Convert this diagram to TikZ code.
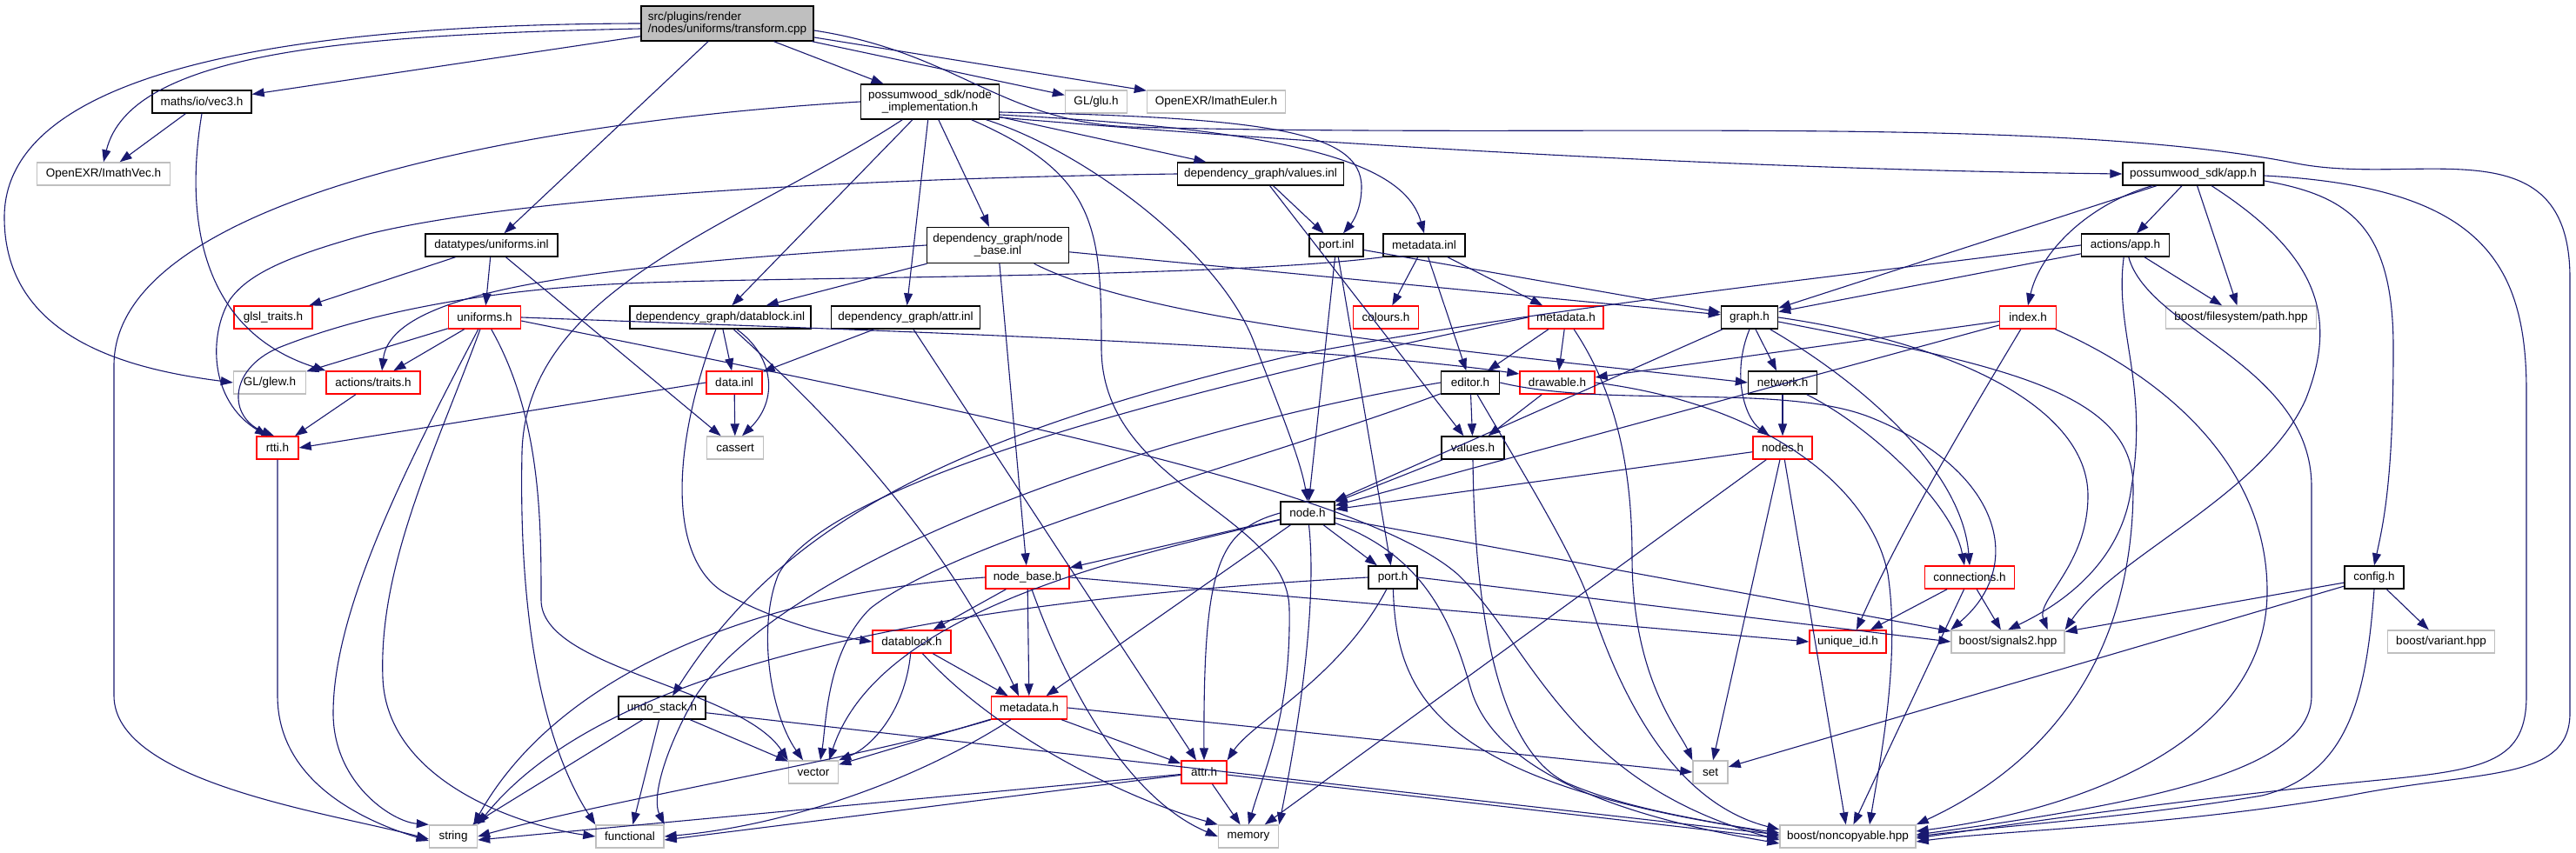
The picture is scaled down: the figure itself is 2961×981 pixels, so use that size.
\documentclass[tikz,border=0pt]{standalone}
\usepackage{fontspec}
\setmainfont{Liberation Sans}
\usetikzlibrary{arrows.meta}
\definecolor{edgec}{HTML}{191970}
\definecolor{grayb}{HTML}{BFBFBF}
\tikzset{
 nb/.style={draw=black, line width=1.4pt, inner sep=0pt, minimum height=26pt, font=\fontsize{13.5pt}{14.5pt}\selectfont},
 nr/.style={nb, draw=red},
 ng/.style={nb, draw=grayb},
 ed/.style={draw=edgec, line width=1.1pt, -{Triangle[length=14pt,width=10pt]}},
}
\begin{document}
\begin{tikzpicture}[x=1pt,y=-1pt]
\fill[white] (0,0) rectangle (2961,981);
\useasboundingbox (0,0) rectangle (2961,981);
% nodes
\node[nb, fill=grayb, minimum width=198pt, minimum height=40pt, align=left] (T) at (836,27) {src/plugins/render\\/nodes/uniforms/transform.cpp};
\node[nb, minimum width=114pt] (vec3) at (232,117) {maths/io/vec3.h};
\node[ng, minimum width=153pt] (ImathVec) at (119,200) {OpenEXR/ImathVec.h};
\node[nb, minimum width=152pt] (uinl) at (565,282) {datatypes/uniforms.inl};
\node[nb, minimum width=159pt, minimum height=40pt, align=center] (NI) at (1069,117) {possumwood\_sdk/node\\\_implementation.h};
\node[ng, minimum width=71pt] (glu) at (1260,117) {GL/glu.h};
\node[ng, minimum width=159pt] (euler) at (1398,117) {OpenEXR/ImathEuler.h};
\node[nb, minimum width=191pt] (vinl) at (1449,200) {dependency\_graph/values.inl};
\node[nb, minimum width=163pt, minimum height=41pt, align=center] (nbinl) at (1147,282) {dependency\_graph/node\\\_base.inl};
\node[nb, minimum width=62pt] (pinl) at (1536,282) {port.inl};
\node[nb, minimum width=94pt] (minl) at (1637,282) {metadata.inl};
\node[nb, minimum width=162pt] (app) at (2521,200) {possumwood\_sdk/app.h};
\node[nb, minimum width=101pt] (aapp) at (2443,282) {actions/app.h};
\node[nr, minimum width=90pt] (glsl) at (314,365) {glsl\_traits.h};
\node[nr, minimum width=83pt] (unih) at (557,365) {uniforms.h};
\node[nb, minimum width=208pt] (dbinl) at (828,365) {dependency\_graph/datablock.inl};
\node[nb, minimum width=171pt] (ainl) at (1041,365) {dependency\_graph/attr.inl};
\node[nr, minimum width=75pt] (colours) at (1593,365) {colours.h};
\node[nr, minimum width=86pt] (mdh) at (1800,365) {metadata.h};
\node[nb, minimum width=65pt] (graph) at (2011,365) {graph.h};
\node[nr, minimum width=65pt] (index) at (2331,365) {index.h};
\node[ng, minimum width=173pt] (fs) at (2576,365) {boost/filesystem/path.hpp};
\node[ng, minimum width=83pt] (glew) at (310,440) {GL/glew.h};
\node[nr, minimum width=108pt] (traits) at (429,440) {actions/traits.h};
\node[nr, minimum width=64pt] (datainl) at (844,440) {data.inl};
\node[nb, minimum width=67pt] (editor) at (1690,440) {editor.h};
\node[nr, minimum width=86pt] (drawable) at (1790,440) {drawable.h};
\node[nb, minimum width=79pt] (network) at (2049,440) {network.h};
\node[nr, minimum width=48pt] (rtti) at (319,515) {rtti.h};
\node[ng, minimum width=65pt] (cassert) at (845,515) {cassert};
\node[nb, minimum width=72pt] (valuesh) at (1693,515) {values.h};
\node[nr, minimum width=68pt] (nodes) at (2049,515) {nodes.h};
\node[nb, minimum width=62pt] (nodeh) at (1503,590) {node.h};
\node[nr, minimum width=96pt] (nbh) at (1181,664) {node\_base.h};
\node[nb, minimum width=56pt] (porth) at (1601,664) {port.h};
\node[nr, minimum width=103pt] (conn) at (2264,664) {connections.h};
\node[nb, minimum width=68pt] (config) at (2729,664) {config.h};
\node[nr, minimum width=90pt] (dbh) at (1048,738) {datablock.h};
\node[nr, minimum width=88pt] (uid) at (2124,738) {unique\_id.h};
\node[ng, minimum width=130pt] (sig) at (2308,738) {boost/signals2.hpp};
\node[ng, minimum width=123pt] (variant) at (2806,738) {boost/variant.hpp};
\node[nb, minimum width=100pt] (undo) at (761,814) {undo\_stack.h};
\node[nr, minimum width=87pt] (mdh2) at (1183,814) {metadata.h};
\node[ng, minimum width=57pt] (vector) at (935,888) {vector};
\node[nr, minimum width=52pt] (attrh) at (1384,888) {attr.h};
\node[ng, minimum width=40pt] (set) at (1966,888) {set};
\node[ng, minimum width=55pt] (string) at (521,962) {string};
\node[ng, minimum width=78pt] (functional) at (724,962) {functional};
\node[ng, minimum width=69pt] (memory) at (1435,962) {memory};
\node[ng, minimum width=156pt] (nc) at (2124,962) {boost/noncopyable.hpp};
% root edges
\draw[ed] (T.west) .. controls (300,28) and (5,90) .. (5,250) .. controls (5,390) and (150,425) .. (glew.west);
\draw[ed] ([yshift=-6pt]T.west) .. controls (400,40) and (150,60) .. (ImathVec.north);
\draw[ed] (T) -- (vec3);
\draw[ed] (T) -- (uinl);
\draw[ed] (T) -- (NI);
\draw[ed] (T) -- (glu);
\draw[ed] (T) -- (euler);
\draw[ed] ([yshift=-8pt]T.east) .. controls (1100,60) and (1150,140) .. (1300,146) .. controls (1800,160) and (2350,130) .. (2640,188) .. controls (2780,215) and (2954,140) .. (2954,320) -- (2954,820) .. controls (2954,900) and (2850,885) .. (2700,915) .. controls (2500,950) and (2300,955) .. ([yshift=-6pt]nc.east);
% node_implementation
\draw[ed] (NI.west) .. controls (600,140) and (131,230) .. (131,420) -- (131,800) .. controls (131,900) and (380,935) .. ([yshift=-3pt]string.west);
\draw[ed] (NI) .. controls (850,260) and (605,330) .. (600,520) .. controls (595,760) and (640,880) .. (functional.north west);
\draw[ed] (NI) -- (dbinl);
\draw[ed] (NI) -- (ainl);
\draw[ed] (NI) -- (nbinl);
\draw[ed] (NI) .. controls (1260,200) and (1266,260) .. (1266,400) .. controls (1266,560) and (1480,590) .. (1482,700) .. controls (1484,820) and (1455,880) .. (memory.north);
\draw[ed] (NI) .. controls (1250,175) and (1400,290) .. (1440,390) .. controls (1475,480) and (1495,530) .. (nodeh.north);
\draw[ed] (NI) -- (vinl);
\draw[ed] ([yshift=-12pt]NI.east) .. controls (1450,135) and (1565,150) .. (1565,215) .. controls (1565,240) and (1555,255) .. ([xshift=8pt]pinl.north);
\draw[ed] ([yshift=-15pt]NI.east) .. controls (1500,150) and (1615,190) .. (minl.north);
\draw[ed] ([yshift=-18pt]NI.east) .. controls (1500,165) and (2000,195) .. (app.west);
% vec3
\draw[ed] (vec3) -- (ImathVec);
\draw[ed] (vec3.south) .. controls (212,250) and (230,380) .. (traits.north west);
% uniforms.inl
\draw[ed] (uinl) -- (glsl);
\draw[ed] (uinl) -- (unih);
\draw[ed] (uinl) -- (cassert);
% uniforms.h
\draw[ed] (unih) -- (glew);
\draw[ed] (unih) -- (traits);
\draw[ed] (unih) .. controls (470,530) and (383,700) .. (383,820) .. controls (383,900) and (450,945) .. (string.north west);
\draw[ed] (unih) .. controls (500,520) and (435,650) .. (440,780) .. controls (445,900) and (600,950) .. (functional.west);
\draw[ed] (unih) .. controls (622,480) and (622,600) .. (622,690) .. controls (622,770) and (850,790) .. (vector.north west);
\draw[ed] (unih.east) .. controls (1000,380) and (1500,395) .. ([yshift=10pt]drawable.west);
\draw[ed] ([yshift=-4pt]unih.east) .. controls (1100,470) and (1560,560) .. (1675,660) .. controls (1760,740) and (1800,900) .. ([yshift=-4pt]nc.west);
% values.inl
\draw[ed] (vinl.west) .. controls (1000,205) and (600,225) .. (420,270) .. controls (330,295) and (285,315) .. (264,345) .. controls (240,385) and (240,460) .. ([xshift=-12pt]rtti.north);
\draw[ed] (vinl) -- (pinl);
\draw[ed] (vinl) -- (valuesh);
% node_base.inl
\draw[ed] (nbinl.west) .. controls (700,305) and (450,330) .. ([xshift=10pt]traits.north);
\draw[ed] (nbinl) -- (dbinl);
\draw[ed] (nbinl) -- (nbh);
\draw[ed] (nbinl) -- (graph);
\draw[ed] (nbinl) .. controls (1320,370) and (1650,400) .. (network.west);
% port.inl
\draw[ed] (pinl) -- (nodeh);
\draw[ed] (pinl) -- (porth);
\draw[ed] (pinl) -- (graph);
% metadata.inl
\draw[ed] (minl.south west) .. controls (1400,320) and (900,318) .. (720,326) .. controls (560,333) and (420,360) .. (320,400) .. controls (262,425) and (262,480) .. ([xshift=-4pt]rtti.north);
\draw[ed] (minl) -- (colours);
\draw[ed] (minl) -- (editor);
\draw[ed] (minl) -- (mdh);
% app.h
\draw[ed] (app) -- (aapp);
\draw[ed] (app) -- (graph);
\draw[ed] (app) .. controls (2400,235) and (2345,290) .. (index.north);
\draw[ed] (app) -- (fs);
\draw[ed] (app) .. controls (2660,290) and (2690,360) .. (2650,460) .. controls (2600,570) and (2430,640) .. (sig.north east);
\draw[ed] ([yshift=-8pt]app.east) .. controls (2700,225) and (2751,260) .. (2751,400) .. controls (2751,550) and (2740,600) .. (config.north);
\draw[ed] ([yshift=-2pt]app.east) .. controls (2850,215) and (2904,300) .. (2904,450) -- (2904,800) .. controls (2904,875) and (2860,885) .. (2736,897) .. controls (2500,920) and (2300,950) .. ([yshift=-2pt]nc.east);
% actions/app.h
\draw[ed] (aapp) -- (graph);
\draw[ed] (aapp) -- (fs);
\draw[ed] (aapp) .. controls (2430,380) and (2470,440) .. (2450,560) .. controls (2440,640) and (2380,690) .. (sig.north);
\draw[ed] (aapp) .. controls (2470,380) and (2657,420) .. (2657,560) -- (2657,800) .. controls (2657,880) and (2500,920) .. ([yshift=2pt]nc.east);
\draw[ed] (aapp.west) .. controls (2100,320) and (1800,350) .. (1480,410) .. controls (1100,500) and (900,600) .. ([xshift=12pt]undo.north);
% graph.h
\draw[ed] (graph) -- (network);
\draw[ed] (graph.south) .. controls (1990,430) and (2005,480) .. ([xshift=-15pt]nodes.north);
\draw[ed] (graph) -- (nodeh);
\draw[ed] (graph) .. controls (2140,440) and (2255,540) .. (conn.north);
\draw[ed] (graph.east) .. controls (2250,395) and (2400,470) .. (2400,570) .. controls (2400,650) and (2340,690) .. ([xshift=-20pt]sig.north east);
\draw[ed] ([yshift=-5pt]graph.east) .. controls (2300,420) and (2452,450) .. (2452,560) .. controls (2452,760) and (2350,880) .. (nc.north east);
% network.h
\draw[ed] (network) -- (nodes);
\draw[ed] (network) .. controls (2150,490) and (2245,580) .. ([xshift=-6pt]conn.north);
% nodes.h
\draw[ed] (nodes) -- (nodeh);
\draw[ed] (nodes) -- (set);
\draw[ed] (nodes) -- (nc);
\draw[ed] (nodes) -- (memory);
% metadata.h (top)
\draw[ed] (mdh) -- (editor);
\draw[ed] (mdh) -- (drawable);
\draw[ed] (mdh) .. controls (1850,440) and (1876,520) .. (1876,640) .. controls (1876,780) and (1930,840) .. (set.north west);
\draw[ed] (mdh.west) .. controls (1300,460) and (950,560) .. (895,660) .. controls (870,720) and (885,820) .. ([xshift=-12pt]vector.north);
% drawable.h
\draw[ed] (drawable) -- (valuesh);
\draw[ed] (drawable.east) .. controls (2030,465) and (2150,560) .. (2170,660) .. controls (2185,760) and (2160,880) .. ([xshift=25pt]nc.north);
% index.h
\draw[ed] (index) -- (drawable);
\draw[ed] (index) -- (nodeh);
\draw[ed] (index) .. controls (2250,500) and (2180,620) .. ([xshift=10pt]uid.north);
\draw[ed] (index) .. controls (2480,430) and (2606,530) .. (2606,680) .. controls (2606,850) and (2400,930) .. ([yshift=6pt]nc.east);
% connections.h
\draw[ed] (conn) -- (uid);
\draw[ed] (conn) -- (sig);
\draw[ed] (conn) -- (nc);
% config.h
\draw[ed] (config) -- (sig);
\draw[ed] (config) -- (variant);
\draw[ed] (config.south) .. controls (2720,800) and (2700,890) .. (2600,915) .. controls (2450,940) and (2300,950) .. (nc.east);
\draw[ed] (config) -- (set);
% values.h
\draw[ed] (valuesh) -- (nodeh);
\draw[ed] (valuesh.south) .. controls (1695,700) and (1720,860) .. (1800,900) .. controls (1880,935) and (1980,945) .. (nc.west);
% editor.h
\draw[ed] (editor) -- (valuesh);
\draw[ed] (editor) .. controls (1450,530) and (1100,620) .. (1000,700) .. controls (950,750) and (950,830) .. ([xshift=8pt]vector.north);
\draw[ed] (editor.west) .. controls (1300,500) and (900,650) .. (800,800) .. controls (760,870) and (750,920) .. (functional.north east);
\draw[ed] (editor) .. controls (1760,560) and (1810,640) .. (1830,700) .. controls (1880,850) and (1950,930) .. ([yshift=8pt]nc.west);
\draw[ed] (editor.east) .. controls (1850,470) and (2050,440) .. (2150,480) .. controls (2300,540) and (2330,650) .. (sig.north west);
% node.h
\draw[ed] (nodeh) -- (nbh);
\draw[ed] (nodeh) -- (porth);
\draw[ed] (nodeh) -- (mdh2);
\draw[ed] (nodeh.west) .. controls (1400,610) and (1383,650) .. (attrh.north);
\draw[ed] (nodeh) .. controls (1515,700) and (1490,850) .. (memory.north east);
\draw[ed] (nodeh) -- (sig);
\draw[ed] (nodeh) .. controls (1640,640) and (1670,720) .. (1690,790) .. controls (1720,900) and (1900,945) .. ([yshift=-8pt]nc.west);
\draw[ed] (nodeh) .. controls (1300,640) and (1010,700) .. ([xshift=18pt]vector.north);
% node_base.h
\draw[ed] (nbh.west) .. controls (900,680) and (650,760) .. ([xshift=-5pt]string.north east);
\draw[ed] (nbh) -- (dbh);
\draw[ed] (nbh) -- (mdh2);
\draw[ed] (nbh) .. controls (1230,800) and (1300,920) .. (memory.west);
\draw[ed] (nbh.east) -- (uid.west);
% port.h
\draw[ed] (porth.west) .. controls (1100,690) and (700,760) .. (string.north east);
\draw[ed] (porth) .. controls (1540,780) and (1440,830) .. (attrh.north east);
\draw[ed] (porth) .. controls (1605,800) and (1650,900) .. ([yshift=4pt]nc.west);
\draw[ed] (porth.east) -- (sig.west);
% datablock.h
\draw[ed] (dbh) -- (mdh2);
\draw[ed] (dbh) .. controls (1040,820) and (1000,860) .. (vector.north east);
\draw[ed] (dbh) .. controls (1150,850) and (1300,920) .. (memory.north west);
% metadata.h (lower)
\draw[ed] (mdh2) -- (vector);
\draw[ed] (mdh2.south west) .. controls (1000,870) and (700,920) .. (string.east);
\draw[ed] (mdh2) .. controls (1050,900) and (900,950) .. (functional.east);
\draw[ed] (mdh2) -- (attrh);
\draw[ed] (mdh2.east) -- (set.west);
% attr.h
\draw[ed] (attrh) -- ([yshift=-4pt]string.east);
\draw[ed] (attrh) -- ([yshift=-4pt]functional.east);
\draw[ed] (attrh) -- (memory);
\draw[ed] (attrh) -- ([yshift=-2pt]nc.west);
% undo_stack.h
\draw[ed] (undo) -- (vector);
\draw[ed] (undo) -- (string);
\draw[ed] (undo) -- (functional);
\draw[ed] (undo) -- ([yshift=2pt]nc.west);
% datablock.inl
\draw[ed] (dbinl) -- (datainl);
\draw[ed] (dbinl) .. controls (890,410) and (895,460) .. ([xshift=8pt]cassert.north);
\draw[ed] (dbinl) .. controls (770,520) and (770,640) .. (830,680) .. controls (880,710) and (950,730) .. (dbh.west);
\draw[ed] (dbinl) .. controls (1000,520) and (1100,650) .. ([xshift=-12pt]mdh2.north);
% attr.inl
\draw[ed] (ainl) -- (datainl);
\draw[ed] (ainl) -- (attrh);
% data.inl
\draw[ed] (datainl) -- (cassert);
\draw[ed] (datainl.west) -- (rtti.east);
% traits, rtti
\draw[ed] (traits) -- (rtti);
\draw[ed] (rtti) -- (319,800) .. controls (319,900) and (420,945) .. ([yshift=-5pt]string.west);
\end{tikzpicture}
\end{document}
